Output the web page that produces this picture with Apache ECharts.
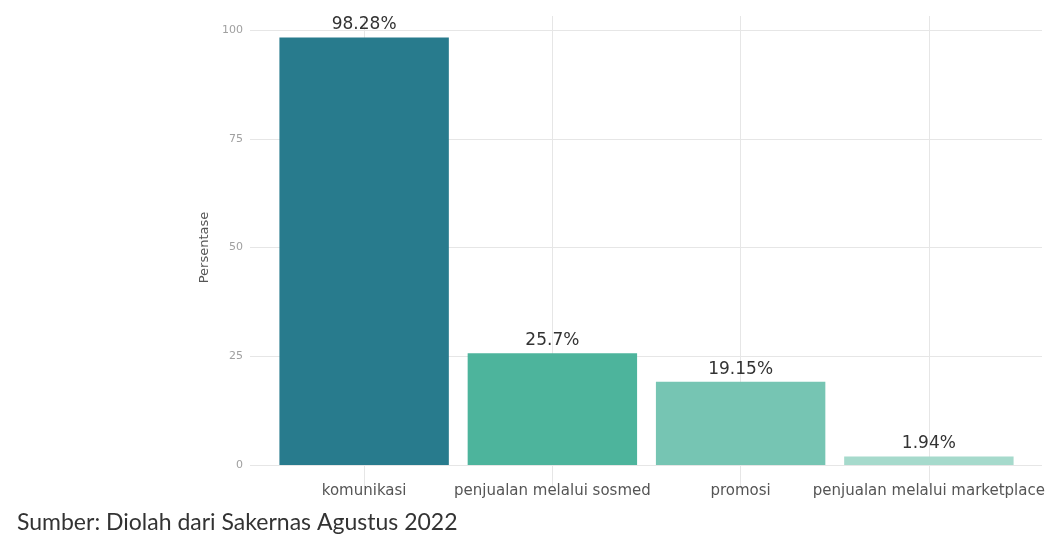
<!DOCTYPE html>
<html>
<head>
<meta charset="utf-8">
<script src="https://cdn.jsdelivr.net/npm/echarts@6/dist/echarts.min.js"></script>
<style>html,body{margin:0;padding:0;background:#fff}#c{width:1052px;height:556px}</style>
</head>
<body>
<div id="c"></div>
<script>
const categories = ['komunikasi', 'penjualan melalui sosmed', 'promosi', 'penjualan melalui marketplace'];
const values = [98.28, 25.7, 19.15, 1.94];
const barColors = ['#287B8D', '#4DB49C', '#76C5B3', '#A6DACC'];
const yMin = 0, yMax = 100, yStep = 25;
const yAxisTitle = 'Persentase';
const caption = 'Sumber: Diolah dari Sakernas Agustus 2022';

const chart = echarts.init(document.getElementById('c'), null, {renderer: 'canvas'});
const gridColor = '#E6E6E6';
chart.setOption({
  backgroundColor: '#fff',
  animation: false,
  title: {
    text: caption, left: 12, top: 506,
    textStyle: {fontFamily: 'Lato', fontSize: 23, fontWeight: 'normal', color: '#333'}
  },
  grid: [
    {left: 250, right: 10, top: 30, bottom: 91},   // horizontal gridlines + y labels
    {left: 364, right: 123, top: 16, bottom: 69},  // vertical gridlines at category centers
    {left: 270, right: 29, top: 30, bottom: 91}    // bars
  ],
  xAxis: [
    {gridIndex: 0, type: 'value', show: false, min: 0, max: 1, splitLine: {show: false}},
    {gridIndex: 1, type: 'value', min: 0, max: categories.length - 1, interval: 1,
      axisLine: {show: false}, axisTick: {show: false}, axisLabel: {show: false},
      splitLine: {show: true, lineStyle: {color: gridColor, width: 1}}},
    {gridIndex: 2, type: 'category', data: categories, boundaryGap: true,
      axisLine: {show: false}, axisTick: {show: false},
      axisLabel: {interval: 0, color: '#555', fontSize: 15, fontFamily: 'DejaVu Sans', margin: 19}}
  ],
  yAxis: [
    {gridIndex: 0, type: 'value', min: yMin, max: yMax, interval: yStep,
      name: yAxisTitle, nameLocation: 'middle', nameGap: 38,
      nameTextStyle: {color: '#555', fontSize: 13, fontFamily: 'DejaVu Sans'},
      axisLine: {show: false}, axisTick: {show: false},
      axisLabel: {color: '#A0A0A0', fontSize: 11, fontFamily: 'DejaVu Sans', margin: 7},
      splitLine: {show: true, lineStyle: {color: gridColor, width: 1}}},
    {gridIndex: 1, type: 'value', show: false, min: 0, max: 1, splitLine: {show: false}},
    {gridIndex: 2, type: 'value', show: false, min: yMin, max: yMax, splitLine: {show: false}}
  ],
  series: [{
    type: 'bar',
    xAxisIndex: 2, yAxisIndex: 2,
    barWidth: '90%',
    data: values.map((v, i) => ({value: v, itemStyle: {color: barColors[i]}})),
    label: {
      show: true, position: 'top', distance: 4,
      formatter: p => p.value + '%',
      color: '#333', fontSize: 17, fontFamily: 'DejaVu Sans'
    }
  }]
});
</script>
</body>
</html>
